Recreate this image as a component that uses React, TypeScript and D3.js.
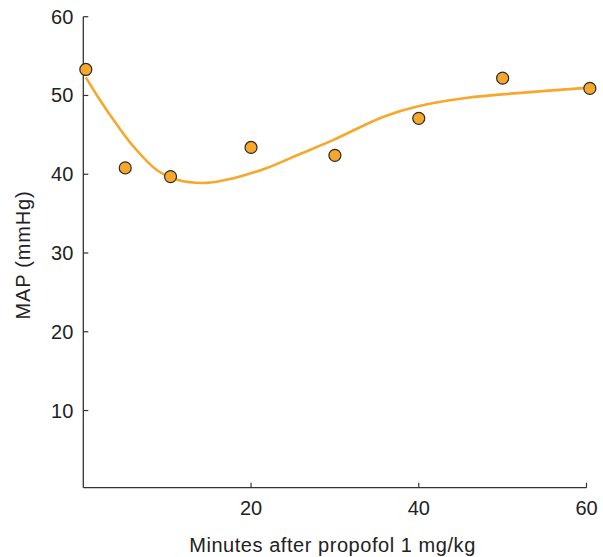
import React from "react";
import * as d3 from "d3";

// Observed mean arterial pressure after propofol
const minutes = [0.3, 5, 10.4, 20, 30, 40, 50, 60.4];
const map = [53.3, 40.8, 39.7, 43.4, 42.4, 47.1, 52.2, 50.9];

// Smoothed trend through the observations
const fitMinutes = [0.3, 2, 4, 6, 8.8, 11.2, 14.6, 17.9, 21.9, 25.9, 29.9, 35.8, 39.8, 45.8, 51.8, 60.4];
const fitMap = [52.3, 49.4, 46.3, 43.5, 40.5, 39.3, 38.9, 39.5, 40.8, 42.6, 44.4, 47.3, 48.6, 49.7, 50.3, 51.0];

const xTicks = [20, 40, 60];
const yTicks = [10, 20, 30, 40, 50, 60];

const W = 603;
const H = 557;
const FONT = "'Liberation Sans', Arial, Helvetica, sans-serif";
const ORANGE = "#F7A82C";
const AXIS = "#333333";

export default function App() {
  const x = d3.scaleLinear().domain([0, 60]).range([83.3, 586.5]);
  const y = d3.scaleLinear().domain([0, 60]).range([489.3, 16.7]);
  const axisY = 487.7;

  const line = d3
    .line<number>()
    .x((_, i) => x(fitMinutes[i]))
    .y((d) => y(d))
    .curve(d3.curveCatmullRom.alpha(0.5));

  return (
    <svg
      width={W}
      height={H}
      style={{ position: "absolute", left: 0, top: 0, background: "#fff" }}
      fontFamily={FONT}
    >
      {/* y axis */}
      <line x1={x(0)} x2={x(0)} y1={y(60)} y2={axisY} stroke={AXIS} strokeWidth={1.3} />
      {yTicks.map((t) => (
        <g key={`y${t}`}>
          <line x1={x(0)} x2={x(0) + 5} y1={y(t)} y2={y(t)} stroke={AXIS} strokeWidth={1.2} />
          <text
            x={x(0) - 10}
            y={y(t)}
            textAnchor="end"
            dominantBaseline="central"
            fontSize={20}
            fill="#222"
          >
            {t}
          </text>
        </g>
      ))}

      {/* x axis */}
      <line x1={x(0)} x2={x(60)} y1={axisY} y2={axisY} stroke={AXIS} strokeWidth={1.3} />
      {xTicks.map((t) => (
        <g key={`x${t}`}>
          <line x1={x(t)} x2={x(t)} y1={axisY} y2={axisY - 5} stroke={AXIS} strokeWidth={1.2} />
          <text
            x={x(t)}
            y={508}
            textAnchor="middle"
            dominantBaseline="central"
            fontSize={20}
            fill="#222"
          >
            {t}
          </text>
        </g>
      ))}

      {/* axis titles */}
      <text
        x={332.5}
        y={545}
        textAnchor="middle"
        dominantBaseline="central"
        fontSize={20}
        letterSpacing={0.55}
        fill="#222"
      >
        Minutes after propofol 1 mg/kg
      </text>
      <text
        transform={`translate(23, 255) rotate(-90)`}
        textAnchor="middle"
        dominantBaseline="central"
        fontSize={20}
        letterSpacing={0.8}
        fill="#222"
      >
        MAP (mmHg)
      </text>

      {/* trend line */}
      <path d={line(fitMap) ?? ""} fill="none" stroke={ORANGE} strokeWidth={2.6} />

      {/* observations */}
      {map.map((v, i) => (
        <circle
          key={i}
          cx={x(minutes[i])}
          cy={y(v)}
          r={6}
          fill={ORANGE}
          stroke="#2b2b2b"
          strokeWidth={1.2}
        />
      ))}
    </svg>
  );
}
